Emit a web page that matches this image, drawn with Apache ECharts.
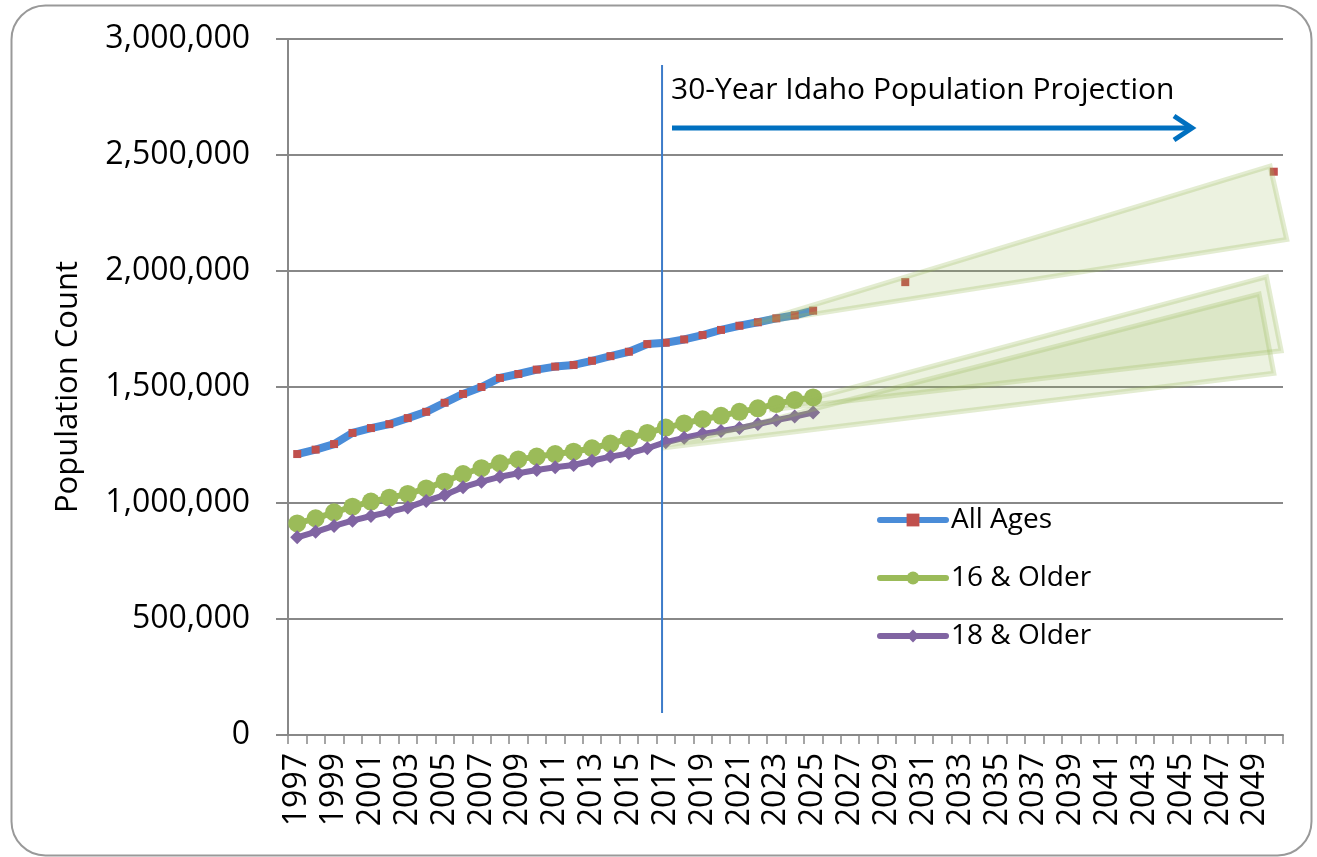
<!DOCTYPE html>
<html><head><meta charset="utf-8">
<script src="https://cdn.jsdelivr.net/npm/echarts@6/dist/echarts.min.js"></script>
<style>html,body{margin:0;padding:0;background:#fff}#c{width:1317px;height:857px}</style>
</head><body><div id="c"></div>
<script>
// ---- categories (x axis) ----
const firstYear = 1997, lastYear = 2050;
const years = [];
for (let y = firstYear; y <= lastYear; y++) years.push(String(y));

// ---- series values (1997 .. 2025) ----
const histStartYear = 1997;
const allAges = [1211000, 1230000, 1254000, 1302000, 1323000, 1340000, 1366000, 1393000, 1432000, 1470000,
  1500000, 1539000, 1556000, 1575000, 1588000, 1595000, 1613000, 1633000, 1652000, 1685000,
  1691000, 1705000, 1724000, 1746000, 1764000, 1779000, 1796000, 1809000, 1829000];
const allAgesProjYears = [2030, 2050];
const allAgesProjValues = [1952000, 2428000];
const older16 = [912000, 934000, 960000, 984000, 1006000, 1023000, 1039000, 1063000, 1092000, 1125000,
  1150000, 1171000, 1188000, 1200000, 1211000, 1221000, 1236000, 1256000, 1277000, 1302000,
  1325000, 1343000, 1361000, 1376000, 1393000, 1408000, 1427000, 1444000, 1455000];
const older18 = [852000, 876000, 901000, 924000, 944000, 962000, 981000, 1009000, 1034000, 1068000,
  1092000, 1113000, 1128000, 1142000, 1154000, 1164000, 1182000, 1200000, 1214000, 1236000,
  1262000, 1281000, 1298000, 1310000, 1323000, 1340000, 1357000, 1373000, 1390000];

// ---- projection cones (year, population) ----
const coneAllAges = [[2021.6, 1771000], [2049.8, 2452000], [2050.7, 2136000]];
const cone16 = [[2022.6, 1401000], [2049.6, 1975000], [2050.4, 1656000]];
const cone18 = [[2016.8, 1237000], [2049.2, 1901000], [2050.0, 1559000]];
const projectionLine = [[2016.8, 95000], [2016.8, 2888000]];

// ---- axis ticks ----
const yMin = 0, yMax = 3000000, yStep = 500000;
const seriesNames = ['All Ages', '16 & Older', '18 & Older'];

function toCategoryData(values, startYear, extraYears, extraValues) {
  return years.map(y => {
    const yr = +y;
    const i = yr - startYear;
    if (i >= 0 && i < values.length) return values[i];
    if (extraYears) {
      const k = extraYears.indexOf(yr);
      if (k >= 0) return extraValues[k];
    }
    return null;
  });
}

const FONT = '"Open Sans", sans-serif';

function coneSeries(points) {
  return {
    type: 'custom', xAxisIndex: 1, yAxisIndex: 0, z: 5, clip: false, silent: true,
    data: [points[0]],
    renderItem: (params, api) => ({
      type: 'polygon',
      shape: { points: points.map(p => api.coord(p)) },
      style: { fill: 'rgba(155,187,89,0.19)', stroke: 'rgba(155,187,89,0.28)', lineWidth: 5, lineJoin: 'miter' }
    })
  };
}

const chart = echarts.init(document.getElementById('c'), null, { renderer: 'canvas' });
chart.setOption({
  animation: false,
  backgroundColor: '#fff',
  textStyle: { fontFamily: FONT },
  grid: { left: 288, right: 34, top: 39, bottom: 122, containLabel: false },
  legend: {
    data: seriesNames, orient: 'vertical', left: 877, top: 506,
    itemWidth: 66, itemHeight: 16, itemGap: 30, padding: 0,
    lineStyle: { width: 6, cap: 'round' },
    textStyle: { fontSize: 28, color: '#000', fontFamily: FONT }
  },
  xAxis: [{
    type: 'category', data: years, boundaryGap: true,
    axisLine: { show: true, lineStyle: { color: '#888', width: 2 } },
    axisTick: { show: true, interval: 0, length: 9, lineStyle: { color: '#888', width: 1.5 } },
    axisLabel: { interval: 1, rotate: 90, fontSize: 32, color: '#000', margin: 18, fontFamily: FONT },
    splitLine: { show: false }
  }, {
    type: 'value', min: firstYear - 0.5, max: lastYear + 0.5, show: false
  }],
  yAxis: {
    type: 'value', min: yMin, max: yMax, interval: yStep,
    name: 'Population Count', nameLocation: 'middle', nameGap: 204,
    nameTextStyle: { fontSize: 31, color: '#000', fontFamily: FONT },
    axisLine: { show: true, lineStyle: { color: '#888', width: 2 } },
    axisTick: { show: true, length: 12, lineStyle: { color: '#888', width: 2 } },
    axisLabel: { fontSize: 32, color: '#000', margin: 38, fontFamily: FONT,
      formatter: v => v.toLocaleString('en-US') },
    splitLine: { show: true, lineStyle: { color: '#888', width: 2 } }
  },
  series: [
    {
      name: seriesNames[0], type: 'line', z: 2,
      data: toCategoryData(allAges, histStartYear, allAgesProjYears, allAgesProjValues),
      connectNulls: false, showAllSymbol: true, symbol: 'rect', symbolSize: 8,
      lineStyle: { color: '#4A8CD8', width: 8 }, itemStyle: { color: '#C0504D' }
    },
    {
      name: seriesNames[1], type: 'line', z: 3,
      data: toCategoryData(older16, histStartYear),
      showAllSymbol: true, symbol: 'circle', symbolSize: 18,
      lineStyle: { color: '#9BBB59', width: 6 }, itemStyle: { color: '#9BBB59' }
    },
    {
      name: seriesNames[2], type: 'line', z: 4,
      data: toCategoryData(older18, histStartYear),
      showAllSymbol: true, symbol: 'diamond', symbolSize: 14,
      lineStyle: { color: '#8064A2', width: 6 }, itemStyle: { color: '#8064A2' }
    },
    coneSeries(coneAllAges),
    coneSeries(cone16),
    coneSeries(cone18),
    {
      type: 'custom', xAxisIndex: 1, yAxisIndex: 0, z: 6, clip: false, silent: true,
      data: [projectionLine[0]],
      renderItem: (params, api) => {
        const a = api.coord(projectionLine[0]), b = api.coord(projectionLine[1]);
        return { type: 'line', shape: { x1: a[0], y1: a[1], x2: b[0], y2: b[1] },
          style: { stroke: '#3D7CC9', lineWidth: 2 } };
      }
    }
  ],
  graphic: [
    { type: 'rect', left: 9, top: 3, silent: true, z: 100,
      shape: { width: 1300, height: 850, r: 34 },
      style: { fill: 'none', stroke: '#999', lineWidth: 2 } },
    { type: 'text', left: 671, top: 75, silent: true, z: 100,
      style: { text: '30-Year Idaho Population Projection', fontSize: 30, fill: '#000', fontFamily: FONT } },
    { type: 'line', silent: true, z: 100,
      shape: { x1: 672, y1: 128, x2: 1190, y2: 128 },
      style: { stroke: '#0070C0', lineWidth: 5 } },
    { type: 'polyline', silent: true, z: 100,
      shape: { points: [[1174, 116], [1192, 128], [1174, 140]] },
      style: { stroke: '#0070C0', lineWidth: 5, fill: 'none', lineJoin: 'miter' } }
  ]
});
</script>
</body></html>
